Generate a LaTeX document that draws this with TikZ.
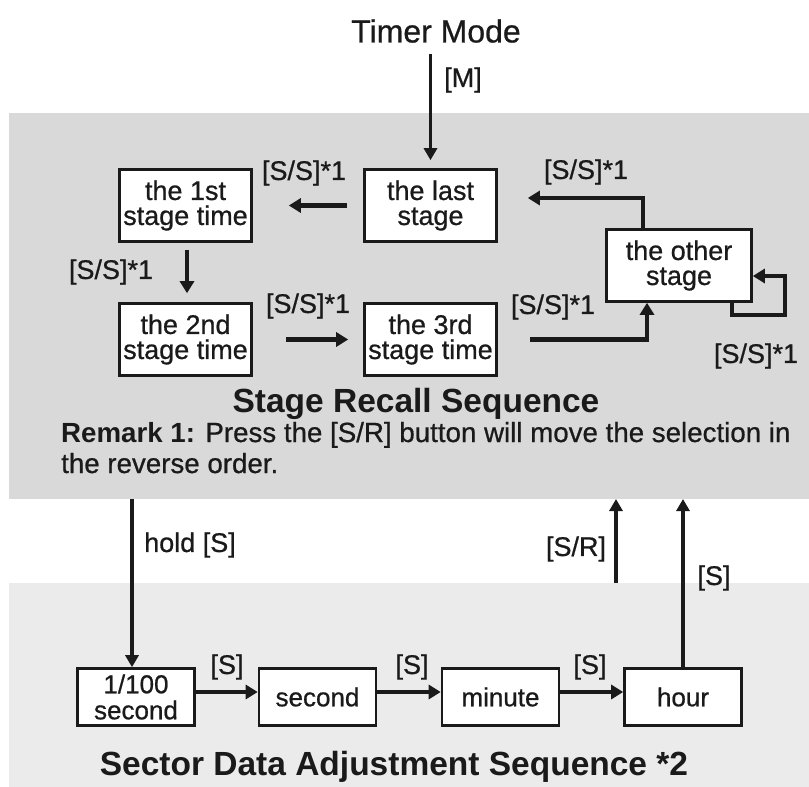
\documentclass[tikz,border=0pt]{standalone}
\usepackage{fontspec}
\setmainfont{Liberation Sans}
\newfontfamily\medf{Liberation Sans}[FakeBold=0.7]
\usetikzlibrary{arrows.meta}
\definecolor{panelA}{HTML}{D9D9D9}
\definecolor{panelB}{HTML}{EBEBEB}
\definecolor{ink}{HTML}{1A1A1A}
\begin{document}
\begin{tikzpicture}[x=1pt,y=-1pt,
  box/.style={draw=ink, line width=2.6pt, fill=white, minimum width=132pt, minimum height=72pt,
    inner sep=0pt, align=center, text=ink, font=\medf\fontsize{27}{25}\selectfont},
  sbox/.style={box, minimum width=117pt, minimum height=57pt, font=\medf\fontsize{26}{26}\selectfont},
  lbl/.style={text=ink, inner sep=0pt, font=\medf\fontsize{27}{30}\selectfont},
  ttl/.style={text=ink, inner sep=0pt, font=\fontsize{33.5}{36}\selectfont\bfseries},
  arr/.style={draw=ink, line width=4.5pt, -{Triangle[length=12pt,width=14pt]}},
  arrv/.style={draw=ink, line width=3.8pt, -{Triangle[length=12pt,width=13pt]}}
]
\fill[white] (0,0) rectangle (809,787);
\useasboundingbox (0,0) rectangle (809,787);
\fill[panelA] (9,113) rectangle (809,499);
\fill[panelB] (9,583) rectangle (809,787);
\coordinate (topedge) at (0,499);

% title
\node[lbl, font=\medf\fontsize{32}{34}\selectfont] (tm) at (436,31) {Timer Mode};

% stage recall boxes
\node[box] (s1) at (185.5,205.5) {the 1st\\stage time};
\node[box] (last) at (430.5,205.5) {the last\\stage};
\node[box] (s2) at (185.5,339.5) {the 2nd\\stage time};
\node[box] (s3) at (430.5,339.5) {the 3rd\\stage time};
\node[box, minimum width=145pt] (other) at (679,265.5) {the other\\stage};

% connectors (top)
\coordinate (tmA) at ([yshift=-11pt]tm.south);
\draw[arrv] (tmA -| last.north) -- ([yshift=8pt]last.north);
\draw[arr] ([xshift=-16pt]last.west) -- ([xshift=36pt]s1.east);
\draw[arr] ([shift={(1.5pt,-7pt)}]s1.south) -- ([shift={(1.5pt,9pt)}]s2.north);
\draw[arr] ([xshift=33pt]s2.east) -- ([xshift=-15pt]s3.west);
\draw[arr] ([xshift=32pt]s3.east) -| ([xshift=-32pt]other.south);
\draw[arr] ([xshift=-36pt]other.north) |- ([shift={(30pt,7.5pt)}]last.east);
\draw[arr] ([xshift=53pt]other.south) -- ++(0,12) -- ++(53,0) |- ([yshift=-10.5pt]other.east);

% labels (top)
\node[lbl] (lm) at (463,80) {[M]};
\node[lbl] (l1) at (304,173) {[S/S]*1};
\node[lbl] (l2) at (111,272) {[S/S]*1};
\node[lbl] (l3) at (308,306) {[S/S]*1};
\node[lbl] (l4) at (553,307) {[S/S]*1};
\node[lbl] (l5) at (586,172) {[S/S]*1};
\node[lbl] (l6) at (756,356) {[S/S]*1};

\node[ttl] (srs) at (416,404) {Stage Recall Sequence};
\node[lbl, anchor=base west, font=\medf\fontsize{27.7}{30}\selectfont] (rm1) at (61,442) {{\normalfont\bfseries Remark 1:} Press the [S/R] button will move the selection in};
\node[lbl, anchor=base west, font=\medf\fontsize{27.7}{30}\selectfont] (rm2) at (61,473) {the reverse order.};

% sector boxes
\node[sbox] (b1) at (136,697) {1/100\\second};
\node[sbox] (b2) at (317.5,697) {second};
\node[sbox] (b3) at (500.5,697) {minute};
\node[sbox] (b4) at (683,697) {hour};

\coordinate (h1) at ([xshift=-4pt]b1.north);
\draw[arrv] (h1 |- topedge) -- (h1);
\coordinate (srbot) at (616,583);
\draw[arrv] (srbot) -- (srbot |- topedge);
\draw[arrv] (b4.north) -- (b4.north |- topedge);
\draw[arr] ([yshift=5pt]b1.east) -- ([yshift=5pt]b2.west);
\draw[arr] ([yshift=5pt]b2.east) -- ([yshift=5pt]b3.west);
\draw[arr] ([yshift=5pt]b3.east) -- ([yshift=5pt]b4.west);

\node[lbl] (lh) at (190,545) {hold [S]};
\node[lbl] (lsr) at (576,549) {[S/R]};
\node[lbl] (ls4) at (714,578) {[S]};
\node[lbl] (ls1) at (227,667) {[S]};
\node[lbl] (ls2) at (412,667) {[S]};
\node[lbl] (ls3) at (590,667) {[S]};

\node[ttl] (sds) at (394,767) {Sector Data Adjustment Sequence *2};
\end{tikzpicture}
\end{document}
